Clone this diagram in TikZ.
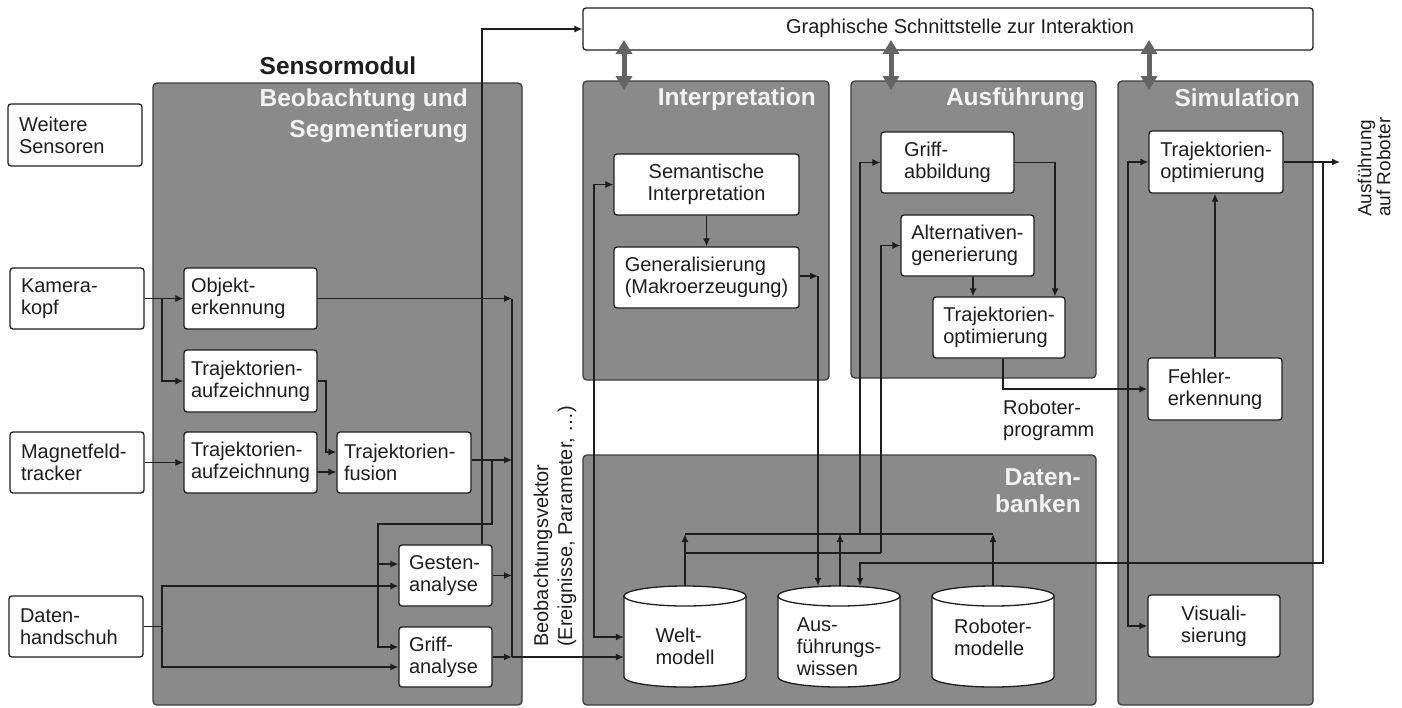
\documentclass[tikz,border=0pt]{standalone}
\usepackage{fontspec}
\setmainfont{Liberation Sans}
\usetikzlibrary{arrows.meta}
\definecolor{panelgray}{RGB}{138,138,138}
\definecolor{paneledge}{RGB}{60,60,60}
\definecolor{ink}{RGB}{30,30,30}
\definecolor{titlewhite}{RGB}{242,242,242}
\definecolor{dblgray}{RGB}{100,100,100}
\pgfdeclarelayer{bg}\pgfdeclarelayer{mid}\pgfsetlayers{bg,mid,main}
\newcommand{\dbcyl}[3]{%
  \filldraw[cylst] ({#1-61},{#2+10}) -- ({#1-61},{#3-10})
    arc[start angle=180,end angle=360,x radius=61pt,y radius=10pt]
    -- ({#1+61},{#2+10}) -- cycle;
  \filldraw[cylst] (#1,{#2+10}) ellipse[x radius=61pt,y radius=10pt];
}
\begin{document}
\begin{tikzpicture}[x=1pt,y=-1pt,
 panel/.style={draw=paneledge, fill=panelgray, line width=1.3pt, rounded corners=4pt, inner sep=0pt},
 ptitle/.style={text=titlewhite, font=\bfseries\fontsize{24.5}{31}\selectfont, inner sep=0pt},
 box/.style={draw=ink, fill=white, line width=1.3pt, rounded corners=3pt, inner sep=0pt, text=ink, font=\fontsize{20}{22}\selectfont, align=left},
 plain/.style={inner sep=0pt, text=ink, font=\fontsize{20}{22}\selectfont, align=left},
 con/.style={draw=ink, line width=1.2pt},
 arr/.style={con, -{Latex[length=8pt,width=7pt]}},
 arrb/.style={con, {Latex[length=8pt,width=7pt]}-{Latex[length=8pt,width=7pt]}},
 dbl/.style={draw=dblgray, line width=5pt, {Triangle[length=14pt,width=16pt]}-{Triangle[length=14pt,width=16pt]}},
 cylst/.style={draw=ink, fill=white, line width=1.3pt},
 hole/.style={inner sep=0pt, minimum width=122pt, minimum height=101pt}
]
\useasboundingbox (0,0) rectangle (1402,707);

% panels
\begin{pgfonlayer}{bg}
\fill[white] (0,0) rectangle (1402,707);
\node[panel, minimum width=369pt, minimum height=622pt] (psens) at (337.5,394) {};
\node[panel, minimum width=246pt, minimum height=299pt] (pint) at (706,230.5) {};
\node[panel, minimum width=245pt, minimum height=297pt] (pausf) at (973.5,229.5) {};
\node[panel, minimum width=195pt, minimum height=624pt] (psim) at (1215.5,393) {};
\node[panel, minimum width=513pt, minimum height=250pt] (pdat) at (839.5,580) {};
\end{pgfonlayer}

% titles
\node[ptitle, align=right, anchor=east] (tsens) at (468,116) {Beobachtung und\\Segmentierung};
\node[ptitle, anchor=east] (tint) at (816,99) {Interpretation};
\node[ptitle, anchor=east] (tausf) at (1085,99) {Ausführung};
\node[ptitle, anchor=east] (tsim) at (1300,98) {Simulation};
\node[ptitle, align=right, anchor=east, font=\bfseries\fontsize{24.5}{27}\selectfont] (tdat) at (1081,491) {Daten-\\banken};
\node[inner sep=0pt, text=ink, font=\bfseries\fontsize{24.5}{30}\selectfont] (sm) at (338,66) {Sensormodul};

% GUI box
\node[box, minimum width=730pt, minimum height=42pt] (gui) at (948,29) {};
\node[plain] (guit) at (960,28) {Graphische Schnittstelle zur Interaktion};

% input boxes
\node[box, minimum width=134pt, minimum height=62pt, text width=112pt] (ws) at (75,135) {Weitere\\Sensoren};
\node[box, minimum width=134pt, minimum height=61pt, text width=112pt] (kam) at (77,298.5) {Kamera-\\kopf};
\node[box, minimum width=134pt, minimum height=61pt, text width=112pt] (mag) at (77,462.5) {Magnetfeld-\\tracker};
\node[box, minimum width=134pt, minimum height=61pt, text width=112pt] (dat) at (76,626.5) {Daten-\\handschuh};

% sensor module boxes
\node[box, minimum width=133pt, minimum height=61pt, text width=119pt] (obj) at (250.5,298.5) {Objekt-\\erkennung};
\node[box, minimum width=133pt, minimum height=62pt, text width=119pt] (ta1) at (250.5,381) {Trajektorien-\\aufzeichnung};
\node[box, minimum width=133pt, minimum height=61pt, text width=119pt] (ta2) at (250.5,462.5) {Trajektorien-\\aufzeichnung};
\node[box, minimum width=134pt, minimum height=61pt, text width=120pt] (fus) at (404,462.5) {Trajektorien-\\fusion};
\node[box, minimum width=93pt, minimum height=61pt, text width=73pt] (ges) at (445.5,575.5) {Gesten-\\analyse};
\node[box, minimum width=93pt, minimum height=60pt, text width=73pt] (grf) at (445.5,657) {Griff-\\analyse};

% interpretation
\node[box, align=center, minimum width=185pt, minimum height=61pt] (sem) at (706.5,184.5) {Semantische\\Interpretation};
\node[box, minimum width=185pt, minimum height=61pt] (gen) at (706.5,277.5) {Generalisierung\\(Makroerzeugung)};

% execution
\node[box, minimum width=133pt, minimum height=61pt] (gab) at (947.5,162.5) {Griff-\\abbildung};
\node[box, minimum width=133pt, minimum height=61pt] (alt) at (967.5,245.5) {Alternativen-\\generierung};
\node[box, minimum width=132pt, minimum height=61pt] (tro) at (999,327.5) {Trajektorien-\\optimierung};

% simulation
\node[box, minimum width=134pt, minimum height=62pt] (sto) at (1216,162) {Trajektorien-\\optimierung};
\node[box, minimum width=134pt, minimum height=62pt] (feh) at (1215,389) {Fehler-\\erkennung};
\node[box, align=center, minimum width=132pt, minimum height=62pt] (vis) at (1214,626) {Visuali-\\sierung};

% databases
\dbcyl{685}{586}{687}
\dbcyl{839}{586}{687}
\dbcyl{993}{586}{687}
\node[hole] (welt) at (685,636.5) {};
\node[hole] (ausw) at (839,636.5) {};
\node[hole] (robo) at (993,636.5) {};
\node[plain] (weltt) at (685,646) {Welt-\\modell};
\node[plain] (auswt) at (839,647) {Aus-\\führungs-\\wissen};
\node[plain] (robot) at (993,637) {Roboter-\\modelle};

% labels
\node[plain, rotate=90, anchor=west, font=\fontsize{20}{24}\selectfont] (bv) at (555,647) {Beobachtungsvektor\\(Ereignisse, Parameter, \dots)};
\node[plain, rotate=90, anchor=west, font=\fontsize{19}{19}\selectfont] (aur) at (1374,217) {Ausführung\\auf Roboter};
\node[plain, anchor=west] (rp) at (1003,420) {Roboter-\\programm};

% double arrows GUI <-> panels
\coordinate (d1a) at (624,40); \coordinate (d1b) at (624,90);
\coordinate (d2a) at (891,40); \coordinate (d2b) at (891,90);
\coordinate (d3a) at (1149,40); \coordinate (d3b) at (1149,90);
\draw[dbl] (d1a) -- (d1b);
\draw[dbl] (d2a) -- (d2b);
\draw[dbl] (d3a) -- (d3b);

% connectors
\coordinate (jk) at (162,298.5);
\coordinate (jd) at (162,627);
\coordinate (c1) at (512,298.5);
\coordinate (c4) at (512,657);
\coordinate (jf) at (492,460);
\coordinate (rob) at (1340,162);
\coordinate (js) at (1323,162);
\coordinate (jr) at (1128,388);
\begin{pgfonlayer}{mid}
\draw[arr] (kam.east) -- (obj.west);
\draw[arr] (jk) |- (ta1.west);
\draw[arr] (mag.east) -- (ta2.west);
\draw[arr] (ta2.east |- 0,472) -- (fus.west |- 0,472);
\draw[arr] (ta1.east) -| (326,452) -- (fus.west |- 0,452);
\draw[arr] (obj.east) -- (c1);
\draw[con] (c1) -- (c4);
\draw[arr] (fus.east |- jf) -- (512,460);
\draw[arr] (jf) |- (378,524) |- (grf.west |- 0,647);
\draw[arr] (378,564) -- (ges.west |- 0,564);
\draw[arr] (ges.east) -- (512,575.5);
\draw[arr] (grf.east) -- (c4);
\draw[arr] (c4) -- (welt.west |- 0,657);
\draw[arr] (dat.east) -| (162,586) -- (ges.west |- 0,586);
\draw[arr] (jd) |- (grf.west |- 0,667);
\draw[arr] (ges.north -| 482,0) |- (gui.west);
\draw[arrb] (sem.west) -| (594,637) -- (welt.west |- 0,637);
\draw[arr] (sem.south) -- (gen.north);
\draw[arr] (gen.east |- 0,276) -- (818,276);
\draw[arr] (818,276) -- (ausw.north -| 818,0);
\draw[arr] (welt.north) -- (685,534);
\draw[arr] (ausw.north -| 840,0) -- (840,534);
\draw[arr] (robo.north) -- (993,534);
\draw[con] (685,534) -- (993,534);
\draw[con] (685,553) -- (881,553);
\draw[arr] (860,534) |- (gab.west);
\draw[arr] (881,553) |- (alt.west);
\draw[arr] (gab.east) -| (tro.north -| 1055,0);
\draw[arr] (alt.south -| 973,0) -- (tro.north -| 973,0);
\draw[arr] (tro.south -| 1003,0) |- (feh.west);
\draw[arr] (jr) |- (sto.west);
\draw[arr] (jr) |- (vis.west);
\draw[arr] (feh.north) -- (sto.south -| feh.north);
\draw[arr] (sto.east) -- (rob);
\draw[arr] (js) |- (860,563) -- (ausw.north -| 860,0);
\end{pgfonlayer}
\end{tikzpicture}
\end{document}
